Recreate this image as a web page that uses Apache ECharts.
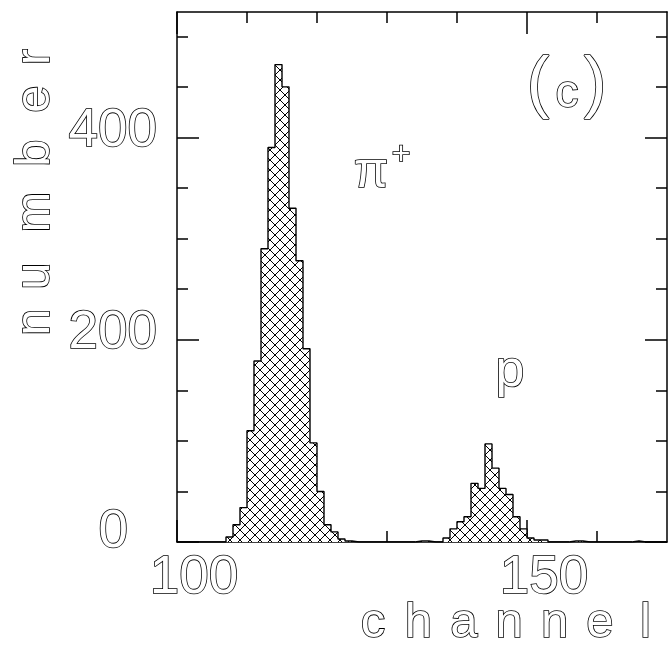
<!DOCTYPE html>
<html><head><meta charset="utf-8">
<script src="https://cdn.jsdelivr.net/npm/echarts@6/dist/echarts.min.js"></script>
<style>html,body{margin:0;padding:0;background:#fff}#c{width:668px;height:646px}</style>
</head><body><div id="c"></div>
<script>
// ---- data ----
const binStart = [107,108,109,110,111,112,113,114,115,116,117,118,119,120,121,122,123,124,
                  134,135,
                  138,139,140,141,142,143,144,145,146,147,148,149,150,151,152,
                  156,157,165];
const counts   = [5,17,34,110,179,290,390,472,450,330,278,191,98,50,17,10,3,1,
                  1,1,
                  4,13,20,25,58,53,97,73,53,47,25,13,4,2,2,
                  1,1,1];
const binWidth = 1;
const xMin = 100, xMax = 170;
const yMin = 0, yMax = 524;
const xMajorTicks = [100,150];
const xMinorTicks = [110,120,130,140,160];
const xTickLabels = [100,150];
const yMajorTicks = [0,200,400];
const yMinorTicks = [50,100,150,250,300,350,450,500];
const yTickLabels = [200,400];
const yZeroLabel = [0];
const xTitle = 'channel';
const yTitle = 'number';
const panelTag = ['(', 'c', ')'];
const peakLabels = ['\u03C0', '+', 'p'];

// ---- cross hatch pattern ----
const P = 10, T = 2*P;
const cv = document.createElement('canvas');
cv.width = T; cv.height = T;
const cx = cv.getContext('2d');
cx.fillStyle = '#fff'; cx.fillRect(0,0,T,T);
cx.strokeStyle = '#000'; cx.lineWidth = 1;
cx.beginPath();
for (let k = -4; k <= 4; k++) {
  cx.moveTo(-T + k*P, -T); cx.lineTo(2*T + k*P, 2*T);
  cx.moveTo(-T + k*P, 2*T); cx.lineTo(2*T + k*P, -T);
}
cx.stroke();
const hatch = {image: cv, repeat: 'repeat'};

// dense outline from bins
const dense = [];
for (let c = xMin; c < xMax; c += binWidth) {
  const i = binStart.indexOf(c);
  dense.push([c, i >= 0 ? counts[i] : 0]);
}
dense.push([xMax, 0]);

const FONT = '"Liberation Sans", Arial, sans-serif';
const LW = 1.6;
const axisLine = {show:true, onZero:false, lineStyle:{color:'#000', width:1.5}};
const noLine = {show:false, onZero:false};
const NUMFS = 53;

function labelStyle(shift) {
  // shift: how many px the digits sit above the tick
  return {
    formatter: v => '{v|' + v + '}\n{s|}',
    rich: {
      v: {fontSize:NUMFS, fontFamily:FONT, color:'#fff', textBorderColor:'#000', textBorderWidth:LW, lineHeight:NUMFS},
      s: {height: 2*shift, lineHeight: 2*shift, fontSize: 1}
    }
  };
}

function xAx(pos, ticks, len, labels, line) {
  return {type:'value', position:pos, min:xMin, max:xMax, splitLine:{show:false},
    axisLine: line ? axisLine : noLine,
    axisTick:{show:true, inside:true, length:len, customValues:ticks, lineStyle:{color:'#000', width:1.5}},
    axisLabel: labels ? {show:true, customValues:labels, fontSize:NUMFS, fontFamily:FONT, color:'#fff',
      textBorderColor:'#000', textBorderWidth:LW, margin:10, padding:[0,0,0,34]} : {show:false}};
}
function yAx(pos, ticks, len, labels, margin, shift, line) {
  return {type:'value', position:pos, min:yMin, max:yMax, splitLine:{show:false},
    axisLine: line ? axisLine : noLine,
    axisTick:{show:true, inside:true, length:len, customValues:ticks, lineStyle:{color:'#000', width:1.5}},
    axisLabel: labels ? Object.assign({show:true, customValues:labels, margin:margin}, labelStyle(shift)) : {show:false}};
}

const graphics = [];
function txt(text, x, y, size, rot) {
  graphics.push({type:'text', x:x, y:y, rotation:rot||0, z:100,
    style:{text:text, x:0, y:0, font: size + 'px ' + FONT, fill:'#fff', stroke:'#000', lineWidth:LW,
      align:'center', verticalAlign:'middle'}});
}
// x title letters (widely spaced)
const xTitleX0 = 373, xTitleStep = 45.4;
for (let i = 0; i < xTitle.length; i++) txt(xTitle[i], xTitleX0 + i*xTitleStep, 623, 49, 0);
// y title letters, rotated
const yTitlePos = [322,276,212,153,99,57];
for (let i = 0; i < yTitle.length; i++) txt(yTitle[i], 35, yTitlePos[i], 49, Math.PI/2);
// panel tag
txt(panelTag[0], 538, 86, 68, 0);
txt(panelTag[1], 567, 94, 46, 0);
txt(panelTag[2], 595, 86, 68, 0);
// peak labels
txt(peakLabels[0], 371, 173, 50, 0);
txt(peakLabels[1], 401, 155, 32, 0);
txt(peakLabels[2], 510, 372, 52, 0);

const chart = echarts.init(document.getElementById('c'), null, {renderer:'canvas'});
chart.setOption({
  animation:false,
  backgroundColor:'#fff',
  grid:{left:177, right:1, top:12, bottom:104, containLabel:false},
  xAxis:[
    xAx('bottom', xMajorTicks, 22, xTickLabels, true),
    xAx('bottom', xMinorTicks, 11, null, false),
    xAx('top', xMajorTicks, 22, null, true),
    xAx('top', xMinorTicks, 11, null, false)
  ],
  yAxis:[
    yAx('left', yMajorTicks, 22, yTickLabels, 20, 6, true),
    yAx('left', yMinorTicks, 11, yZeroLabel, 49, 10, false),
    yAx('right', yMajorTicks, 22, null, 0, 0, true),
    yAx('right', yMinorTicks, 11, null, 0, 0, false)
  ],
  series:[
    {type:'custom', xAxisIndex:0, yAxisIndex:0, z:2,
     data: binStart.map((b,i)=>[b, counts[i]]),
     renderItem: function(params, api){
       const x0 = api.value(0), v = api.value(1);
       const p0 = api.coord([x0, 0]), p1 = api.coord([x0 + binWidth, v]);
       return {type:'rect', shape:{x:p0[0], y:p1[1], width:p1[0]-p0[0], height:p0[1]-p1[1]},
               style:{fill:hatch, stroke:null}};
     }},
    {type:'line', xAxisIndex:0, yAxisIndex:0, z:3, step:'end', symbol:'none',
     data: dense, lineStyle:{color:'#000', width:1.4}}
  ],
  graphic: graphics
});
</script></body></html>
